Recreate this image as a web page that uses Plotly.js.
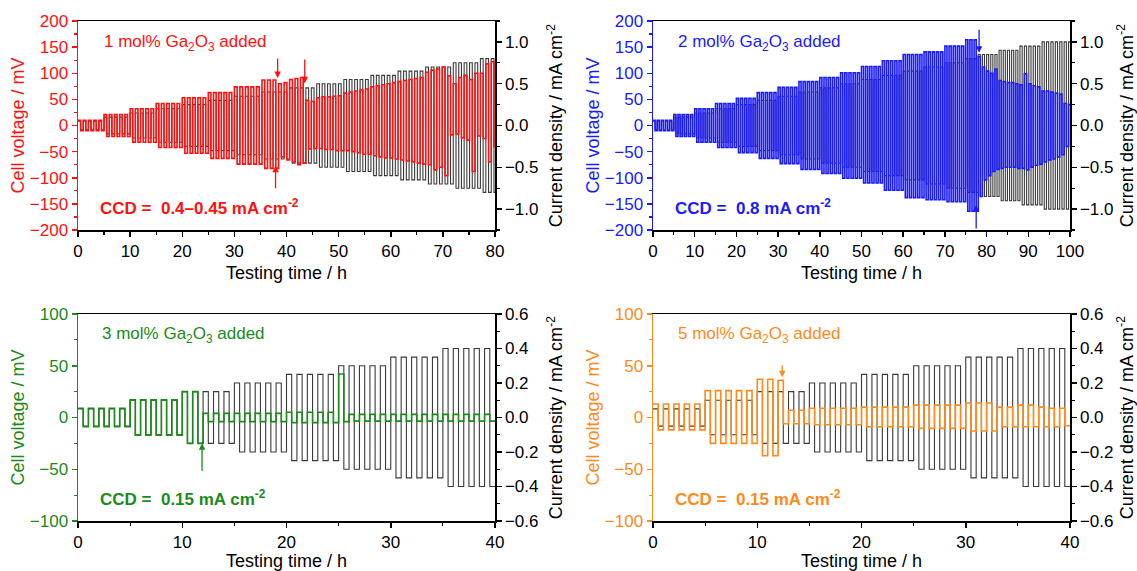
<!DOCTYPE html>
<html>
<head>
<meta charset="utf-8">
<script src="https://cdn.plot.ly/plotly-3.0.1.min.js"></script>
<style>
html,body{margin:0;padding:0;background:#fff;}
#chart{width:1137px;height:571px;}
</style>
</head>
<body>
<div id="chart"></div>
<script>
// ---------------- DATA ----------------
// Panel A: 1 mol% Ga2O3
const A_segStart = [0,5,10,15,20,25,30,35.3,40.6,45.8,51,56.2,61.4,66.7,72,77.2];
const A_nCyc     = [5,5,5,5,5,5,5,5,5,5,5,5,5,5,5,5];
const A_current  = [0.05,0.10,0.15,0.20,0.25,0.30,0.35,0.40,0.45,0.50,0.55,0.60,0.65,0.70,0.75,0.80];
const A_vTop = [10,10,10,10,10, 21,21,21,21,21, 32,32,32,32,32, 42,42,42,42,42,
                53,53,53,53,53, 63,63,63,63,63, 74,74,74,74,74, 87,87,87,80,82,
                88,90,92,48,46, 53,55,55,56,57, 62,64,66,68,70, 74,76,78,80,82,
                84,86,88,90,92, 102,106,108,112,95, 80,92,96,88,100, 100,118,122,120,120];
const A_vBot = [-10,-10,-10,-10,-10, -21,-21,-21,-21,-21, -32,-32,-32,-32,-32, -42,-42,-42,-42,-42,
                -53,-53,-53,-53,-53, -63,-63,-63,-63,-63, -74,-74,-74,-74,-74, -82,-82,-82,-60,-66,
                -70,-75,-72,-45,-44, -44,-46,-46,-48,-48, -48,-50,-52,-55,-55, -58,-60,-62,-62,-64,
                -66,-68,-70,-72,-74, -75,-85,-80,-96,-18, -16,-24,-28,-88,-20, -25,-70,-40,-40,-40];

// Panel B: 2 mol% Ga2O3
const B_segStart = [0,5,10,15,20,25,30,35,40,45,50,55,60,65,70,75,78,83,88,93.3];
const B_nCyc     = [5,5,5,5,5,5,5,5,5,5,5,5,5,5,5,3,5,5,5,7];
const B_current  = [0.05,0.10,0.15,0.20,0.25,0.30,0.35,0.40,0.45,0.50,0.55,0.60,0.65,0.70,0.75,0.80,0.85,0.90,0.95,1.00];
const B_vTop = [10,10,10,10,10, 21,21,21,21,21, 32,32,32,32,32, 42,42,42,42,42,
                52,52,52,52,52, 63,63,63,63,63, 73,73,73,73,73, 84,84,84,84,84,
                92,92,92,92,92, 101,101,101,101,101, 113,113,113,113,113, 124,124,124,124,124,
                136,136,136,136,136, 141,141,141,141,141, 152,152,152,152,152, 164,164,164,
                132,112,104,100,108, 86,84,82,82,80, 78,99,80,76,74, 66,66,64,62,60,42,40];
const B_vBot = [-10,-10,-10,-10,-10, -21,-21,-21,-21,-21, -32,-32,-32,-32,-32, -42,-42,-42,-42,-42,
                -52,-52,-52,-52,-52, -63,-63,-63,-63,-63, -73,-73,-73,-73,-73, -84,-84,-84,-84,-84,
                -92,-92,-92,-92,-92, -101,-101,-101,-101,-101, -110,-110,-110,-110,-110, -124,-124,-124,-124,-124,
                -138,-138,-138,-138,-138, -142,-142,-142,-142,-142, -146,-146,-146,-146,-146, -164,-164,-164,
                -136,-104,-96,-88,-84, -82,-80,-80,-80,-82, -82,-85,-80,-76,-74, -70,-66,-64,-60,-56,-40,-30];

// Panel C: 3 mol% Ga2O3
const C_segStart = [0,5,10,15,20,25,30,35];
const C_nCyc     = [5,5,5,5,5,5,5,5];
const C_current  = [0.05,0.10,0.15,0.20,0.25,0.30,0.35,0.40];
const C_vTop = [9,9,9,9,9, 17,17,17,17,17, 25,25,4,4,4, 4,4,4,4,4,
                5,5,5,5,5, 42,3,3,3,3, 3,3,3,3,3, 3,3,3,3,3];
const C_vBot = [-9,-9,-9,-9,-9, -17,-17,-17,-17,-17, -25,-25,-4,-4,-4, -4,-4,-4,-4,-4,
                -5,-5,-5,-5,-5, -4,-3.5,-3.5,-3.5,-3.5, -3.5,-3.5,-3.5,-3.5,-3.5, -3.5,-3.5,-3.5,-3.5,-3.5];

// Panel D: 5 mol% Ga2O3
const D_segStart = [0,5,10,15,20,25,30,35];
const D_nCyc     = [5,5,5,5,5,5,5,5];
const D_current  = [0.05,0.10,0.15,0.20,0.25,0.30,0.35,0.40];
const D_vTop = [13,13,13,13,13, 26,26,26,26,26, 37,37,36,7,7, 9,9,9,9,9,
                10,10,10,10,10, 12,12,12,12,12, 14,14,14,10,10, 12,12,10,9,9];
const D_vBot = [-12,-12,-12,-12,-12, -25,-25,-25,-25,-25, -37,-37,-6,-6,-6, -7,-7,-7,-7,-7,
                -9,-9,-9,-9,-9, -10.5,-10.5,-10.5,-10.5,-10.5, -13,-13,-13,-9,-9, -9,-9,-9,-9,-8];

// ---------------- BUILD SQUARE WAVES ----------------
function build(segStart, nCyc, current, vTop, vBot){
  const cx=[], cy=[], vx=[], vy=[];
  let k=0;
  for(let s=0;s<segStart.length;s++){
    let end;
    if(s<segStart.length-1) end = segStart[s+1];
    else end = segStart[s] + nCyc[s]*((segStart[s]-segStart[s-1])/nCyc[s-1]);
    const p = (end-segStart[s])/nCyc[s];
    const I = current[s];
    for(let c=0;c<nCyc[s];c++){
      const t0 = segStart[s]+c*p, th = t0+p/2, t1 = t0+p;
      cx.push(t0,th,th,t1); cy.push(I,I,-I,-I);
      vx.push(t0,th,th,t1); vy.push(vTop[k],vTop[k],vBot[k],vBot[k]);
      k++;
    }
  }
  return {cx,cy,vx,vy};
}

const COL = {A:'#ff1010', B:'#1a1aff', C:'#1a8a1a', D:'#ff8a1a'};
const FONT = 'Liberation Sans, Arial, sans-serif';
const panels = [
  {d:build(A_segStart,A_nCyc,A_current,A_vTop,A_vBot), c:COL.A, xa:'x',  yb:'y',  yo:'y2'},
  {d:build(B_segStart,B_nCyc,B_current,B_vTop,B_vBot), c:COL.B, xa:'x2', yb:'y3', yo:'y4'},
  {d:build(C_segStart,C_nCyc,C_current,C_vTop,C_vBot), c:COL.C, xa:'x3', yb:'y5', yo:'y6'},
  {d:build(D_segStart,D_nCyc,D_current,D_vTop,D_vBot), c:COL.D, xa:'x4', yb:'y7', yo:'y8'}
];
const traces=[];
panels.forEach(p=>{
  traces.push({x:p.d.cx, y:p.d.cy, xaxis:p.xa, yaxis:p.yb, mode:'lines',
    line:{color:'#3a3a3a', width:1.1}, hoverinfo:'skip', showlegend:false});
  traces.push({x:p.d.vx, y:p.d.vy, xaxis:p.xa, yaxis:p.yo, mode:'lines',
    line:{color:p.c, width:1.6}, hoverinfo:'skip', showlegend:false});
});

// ---------------- LAYOUT ----------------
const W=1137, H=571;
const xL=[78/W,495/W], xR=[653/W,1070/W];
const yT=[1-230/H,1-21/H], yB=[1-521/H,1-314/H];
const TF = 17;

function xaxis(domain, anchor, range){
  return {domain, anchor, range, dtick:10, tick0:0, showline:true, linecolor:'#000', linewidth:1.5,
    mirror:true, ticks:'outside', ticklen:5, tickwidth:1.5, tickcolor:'#000',
    minor:{dtick:5, ticks:'outside', ticklen:3, tickwidth:1.2, tickcolor:'#000', showgrid:false},
    showgrid:false, zeroline:false, tickfont:{family:FONT,size:TF,color:'#000'},
    title:{text:'Testing time / h', font:{family:FONT,size:18,color:'#000'}, standoff:6}};
}
function yRight(domain, anchor, range, dtick, mdtick){
  return {domain, anchor, side:'right', range, dtick, tick0:0, tickformat:'.1f',
    showline:true, linecolor:'#000', linewidth:1.5,
    ticks:'outside', ticklen:5, tickwidth:1.5, tickcolor:'#000',
    minor:{dtick:mdtick, ticks:'outside', ticklen:3, tickwidth:1.2, tickcolor:'#000', showgrid:false},
    showgrid:false, zeroline:false, tickfont:{family:FONT,size:TF,color:'#000'},
    title:{text:'Current density / mA cm<sup>-2</sup>', font:{family:FONT,size:18,color:'#000'}, standoff:12}};
}
function yLeft(over, anchor, range, dtick, mdtick, col){
  return {overlaying:over, anchor, side:'left', range, dtick, tick0:0,
    showline:true, linecolor:col, linewidth:1.5,
    ticks:'outside', ticklen:5, tickwidth:1.5, tickcolor:col,
    minor:{dtick:mdtick, ticks:'outside', ticklen:3, tickwidth:1.2, tickcolor:col, showgrid:false},
    showgrid:false, zeroline:false, tickfont:{family:FONT,size:TF,color:col},
    title:{text:'Cell voltage / mV', font:{family:FONT,size:18,color:col}, standoff:0}};
}

function txt(xref,yref,x,y,text,col,bold){
  return {xref,yref,x,y,text:bold?'<b>'+text+'</b>':text,showarrow:false,xanchor:'left',yanchor:'middle',
    font:{family:FONT,size:17,color:col}};
}
function arrow(xref,yref,x,y,ay,col){
  return {xref,yref,axref:xref,ayref:yref,x,y,ax:x,ay,text:'',showarrow:true,
    arrowhead:2,arrowsize:1,arrowwidth:1.3,arrowcolor:col};
}

const layout = {
  width:W, height:H, margin:{l:0,r:0,t:0,b:0},
  paper_bgcolor:'#fff', plot_bgcolor:'rgba(0,0,0,0)', showlegend:false,
  font:{family:FONT},
  xaxis: xaxis(xL,'y',[0,80]),
  yaxis: yRight(yT,'x',[-1.25,1.25],0.5,0.25),
  yaxis2: yLeft('y','x',[-200,200],50,25,COL.A),
  xaxis2: xaxis(xR,'y3',[0,100]),
  yaxis3: yRight(yT,'x2',[-1.25,1.25],0.5,0.25),
  yaxis4: yLeft('y3','x2',[-200,200],50,25,COL.B),
  xaxis3: xaxis(xL,'y5',[0,40]),
  yaxis5: yRight(yB,'x3',[-0.6,0.6],0.2,0.1),
  yaxis6: yLeft('y5','x3',[-100,100],50,25,COL.C),
  xaxis4: xaxis(xR,'y7',[0,40]),
  yaxis7: yRight(yB,'x4',[-0.6,0.6],0.2,0.1),
  yaxis8: yLeft('y7','x4',[-100,100],50,25,COL.D),
  annotations:[
    txt('x','y2',4.6,158,'1 mol% Ga<sub>2</sub>O<sub>3</sub> added',COL.A,false),
    txt('x','y2',3.85,-156,'CCD =  0.4–0.45 mA cm<sup>-2</sup>',COL.A,true),
    arrow('x','y2',38.3,91,131,COL.A),
    arrow('x','y2',37.9,-77,-123,COL.A),
    arrow('x','y2',43.5,81,129,COL.A),
    txt('x2','y4',5.5,158,'2 mol% Ga<sub>2</sub>O<sub>3</sub> added',COL.B,false),
    txt('x2','y4',4.8,-156,'CCD =  0.8 mA cm<sup>-2</sup>',COL.B,true),
    arrow('x2','y4',78.2,139,186,COL.B),
    arrow('x2','y4',77.5,-152,-200,COL.B),
    txt('x3','y6',2.1,80,'3 mol% Ga<sub>2</sub>O<sub>3</sub> added',COL.C,false),
    txt('x3','y6',1.9,-78,'CCD =  0.15 mA cm<sup>-2</sup>',COL.C,true),
    arrow('x3','y6',11.9,-25,-53,COL.C),
    txt('x4','y8',2.2,80,'5 mol% Ga<sub>2</sub>O<sub>3</sub> added',COL.D,false),
    txt('x4','y8',1.9,-78,'CCD =  0.15 mA cm<sup>-2</sup>',COL.D,true),
    arrow('x4','y8',12.4,39,52,COL.D)
  ]
};

Plotly.newPlot('chart', traces, layout, {staticPlot:true, displayModeBar:false});
</script>
</body>
</html>
